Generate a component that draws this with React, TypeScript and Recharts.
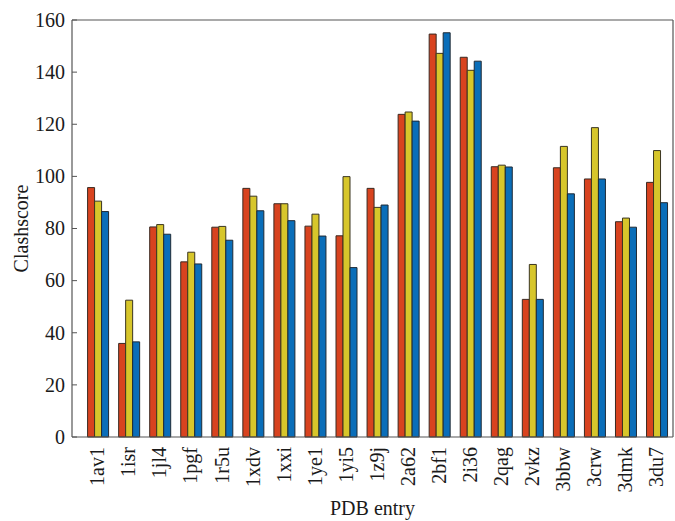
import React from 'react';
import { BarChart, Bar, XAxis, YAxis, Label } from 'recharts';

const entries = ['1av1', '1isr', '1jl4', '1pgf', '1r5u', '1xdv', '1xxi', '1ye1', '1yi5', '1z9j', '2a62', '2bf1', '2i36', '2qag', '2vkz', '3bbw', '3crw', '3dmk', '3du7'];
const seriesA = [95.7, 35.9, 80.6, 67.2, 80.5, 95.4, 89.5, 80.9, 77.2, 95.4, 123.8, 154.6, 145.7, 103.7, 52.8, 103.3, 99.0, 82.6, 97.7];
const seriesB = [90.5, 52.5, 81.5, 70.9, 80.8, 92.4, 89.5, 85.5, 99.9, 88.1, 124.7, 147.2, 140.7, 104.3, 66.2, 111.5, 118.7, 84.0, 109.9];
const seriesC = [86.5, 36.5, 77.8, 66.4, 75.5, 86.8, 83.0, 77.1, 65.0, 89.0, 121.2, 155.1, 144.2, 103.6, 52.8, 93.3, 99.0, 80.5, 89.9];
const yTicks = [0, 20, 40, 60, 80, 100, 120, 140, 160];

const data = entries.map((name, i) => ({ name, a: seriesA[i], b: seriesB[i], c: seriesC[i] }));

const FONT = 'Liberation Serif, Times New Roman, serif';
const TEXT = '#1a1a1a';
const AXIS = '#555';

const XTick = (props: any) => {
  const { x, y, payload } = props;
  return (
    <text
      x={x}
      y={y}
      transform={`rotate(-90, ${x}, ${y})`}
      textAnchor="end"
      dy="0.34em"
      style={{ fontFamily: FONT, fontSize: 20, fill: TEXT }}
    >
      {payload.value}
    </text>
  );
};

const YTick = (props: any) => {
  const { x, y, payload } = props;
  return (
    <text
      x={x}
      y={y}
      textAnchor="end"
      dy="0.34em"
      style={{ fontFamily: FONT, fontSize: 20, fill: TEXT }}
    >
      {payload.value}
    </text>
  );
};

const YLabel = (props: any) => {
  const vb = props.viewBox || {};
  const cx = (vb.x ?? 0) + 21;
  const cy = (vb.y ?? 0) + (vb.height ?? 0) / 2;
  return (
    <text
      x={cx}
      y={cy}
      transform={`rotate(-90, ${cx}, ${cy})`}
      textAnchor="middle"
      dy="0.34em"
      style={{ fontFamily: FONT, fontSize: 20, fill: TEXT }}
    >
      Clashscore
    </text>
  );
};

const XLabel = (props: any) => {
  const vb = props.viewBox || {};
  const cx = (vb.x ?? 0) + (vb.width ?? 0) / 2;
  const cy = (vb.y ?? 0) + (vb.height ?? 0) - 6;
  return (
    <text x={cx} y={cy} textAnchor="middle" style={{ fontFamily: FONT, fontSize: 20, fill: TEXT }}>
      PDB entry
    </text>
  );
};

export default function App() {
  return (
    <div style={{ position: 'absolute', left: 0, top: 0, width: 675, height: 521, background: '#fff' }}>
      <BarChart
        width={675}
        height={521}
        data={data}
        margin={{ top: 19, right: 1, bottom: 0, left: 0 }}
        barCategoryGap="18%"
        barGap={0}
      >
        <XAxis
          dataKey="name"
          interval={0}
          height={84}
          padding={{ left: 10, right: 1 }}
          tickSize={0}
          tickMargin={10}
          tickLine={false}
          axisLine={{ stroke: AXIS, strokeWidth: 1.2 }}
          tick={<XTick />}
        >
          <Label content={<XLabel />} />
        </XAxis>
        <XAxis
          xAxisId="top"
          dataKey="name"
          orientation="top"
          interval={0}
          height={1}
          padding={{ left: 10, right: 1 }}
          tickSize={-5}
          tick={false}
          tickLine={{ stroke: AXIS }}
          axisLine={{ stroke: AXIS, strokeWidth: 1.2 }}
        />
        <YAxis
          width={72}
          domain={[0, 160]}
          ticks={yTicks}
          interval={0}
          tickSize={-5}
          tickMargin={12}
          tickLine={{ stroke: AXIS }}
          axisLine={{ stroke: AXIS, strokeWidth: 1.2 }}
          tick={<YTick />}
        >
          <Label content={<YLabel />} />
        </YAxis>
        <YAxis
          yAxisId="right"
          orientation="right"
          width={1}
          domain={[0, 160]}
          ticks={yTicks}
          tickSize={-5}
          tick={false}
          tickLine={{ stroke: AXIS }}
          axisLine={{ stroke: AXIS, strokeWidth: 1.2 }}
        />
        <Bar dataKey="a" fill="#D8431F" stroke="#3a2a22" strokeWidth={1} isAnimationActive={false} />
        <Bar dataKey="b" fill="#D7C62B" stroke="#3a3520" strokeWidth={1} isAnimationActive={false} />
        <Bar dataKey="c" fill="#0A6EB9" stroke="#1f2a35" strokeWidth={1} isAnimationActive={false} />
      </BarChart>
    </div>
  );
}
